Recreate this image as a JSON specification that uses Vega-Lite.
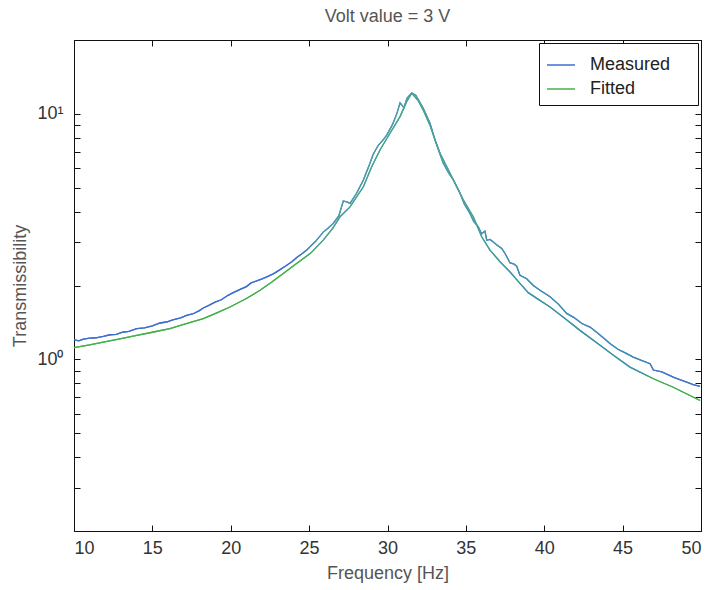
{
  "$schema": "https://vega.github.io/schema/vega-lite/v6.json",
  "autosize": {"type": "none"},
  "padding": {"left": 74, "top": 40, "right": 12, "bottom": 59},
  "width": 627,
  "height": 491,
  "background": "white",
  "title": {"text": "Volt value = 3 V", "baseline": "alphabetic", "offset": 0, "font": "Liberation Sans", "fontSize": 18, "fontWeight": "normal", "color": "#555"},
  "config": {
    "view": {"stroke": "#111", "strokeWidth": 1},
    "axis": {"grid": false, "domainColor": "#111", "tickColor": "#111", "labelColor": "#333", "titleColor": "#555", "labelFont": "Liberation Sans", "titleFont": "Liberation Sans", "labelFontSize": 18, "titleFontSize": 18, "titleFontWeight": "normal", "tickSize": -6, "labelPadding": 14},
    "legend": {"labelFont": "Liberation Sans", "labelFontSize": 18, "labelColor": "#222"}
  },
  "datasets": {
    "curves": [
      {"series": "Measured", "freq": 10.0, "trans": 1.203},
      {"series": "Measured", "freq": 10.3, "trans": 1.19},
      {"series": "Measured", "freq": 10.6, "trans": 1.21},
      {"series": "Measured", "freq": 11.0, "trans": 1.22},
      {"series": "Measured", "freq": 11.4, "trans": 1.225},
      {"series": "Measured", "freq": 11.87, "trans": 1.241},
      {"series": "Measured", "freq": 12.3, "trans": 1.26},
      {"series": "Measured", "freq": 12.7, "trans": 1.265},
      {"series": "Measured", "freq": 13.1, "trans": 1.29},
      {"series": "Measured", "freq": 13.5, "trans": 1.30},
      {"series": "Measured", "freq": 14.0, "trans": 1.335},
      {"series": "Measured", "freq": 14.5, "trans": 1.345},
      {"series": "Measured", "freq": 15.0, "trans": 1.37},
      {"series": "Measured", "freq": 15.49, "trans": 1.407},
      {"series": "Measured", "freq": 15.9, "trans": 1.42},
      {"series": "Measured", "freq": 16.3, "trans": 1.45},
      {"series": "Measured", "freq": 16.8, "trans": 1.475},
      {"series": "Measured", "freq": 17.19, "trans": 1.512},
      {"series": "Measured", "freq": 17.6, "trans": 1.535},
      {"series": "Measured", "freq": 18.0, "trans": 1.58},
      {"series": "Measured", "freq": 18.25, "trans": 1.62},
      {"series": "Measured", "freq": 18.6, "trans": 1.66},
      {"series": "Measured", "freq": 19.0, "trans": 1.71},
      {"series": "Measured", "freq": 19.4, "trans": 1.75},
      {"series": "Measured", "freq": 19.8, "trans": 1.82},
      {"series": "Measured", "freq": 20.16, "trans": 1.87},
      {"series": "Measured", "freq": 20.6, "trans": 1.93},
      {"series": "Measured", "freq": 21.0, "trans": 1.98},
      {"series": "Measured", "freq": 21.3, "trans": 2.05},
      {"series": "Measured", "freq": 21.66, "trans": 2.09},
      {"series": "Measured", "freq": 22.0, "trans": 2.13},
      {"series": "Measured", "freq": 22.3, "trans": 2.17},
      {"series": "Measured", "freq": 22.71, "trans": 2.23},
      {"series": "Measured", "freq": 23.1, "trans": 2.31},
      {"series": "Measured", "freq": 23.5, "trans": 2.40},
      {"series": "Measured", "freq": 23.9, "trans": 2.50},
      {"series": "Measured", "freq": 24.21, "trans": 2.60},
      {"series": "Measured", "freq": 24.5, "trans": 2.68},
      {"series": "Measured", "freq": 24.85, "trans": 2.79},
      {"series": "Measured", "freq": 25.06, "trans": 2.88},
      {"series": "Measured", "freq": 25.4, "trans": 3.02},
      {"series": "Measured", "freq": 25.9, "trans": 3.30},
      {"series": "Measured", "freq": 26.2, "trans": 3.42},
      {"series": "Measured", "freq": 26.54, "trans": 3.58},
      {"series": "Measured", "freq": 26.9, "trans": 3.85},
      {"series": "Measured", "freq": 27.18, "trans": 4.42},
      {"series": "Measured", "freq": 27.4, "trans": 4.38},
      {"series": "Measured", "freq": 27.61, "trans": 4.32},
      {"series": "Measured", "freq": 28.03, "trans": 4.75},
      {"series": "Measured", "freq": 28.46, "trans": 5.38},
      {"series": "Measured", "freq": 28.8, "trans": 6.1},
      {"series": "Measured", "freq": 29.09, "trans": 6.85},
      {"series": "Measured", "freq": 29.41, "trans": 7.45},
      {"series": "Measured", "freq": 29.7, "trans": 7.8},
      {"series": "Measured", "freq": 29.95, "trans": 8.2},
      {"series": "Measured", "freq": 30.3, "trans": 9.0},
      {"series": "Measured", "freq": 30.59, "trans": 10.0},
      {"series": "Measured", "freq": 30.8, "trans": 11.1},
      {"series": "Measured", "freq": 31.05, "trans": 10.6},
      {"series": "Measured", "freq": 31.25, "trans": 11.6},
      {"series": "Measured", "freq": 31.54, "trans": 12.15},
      {"series": "Measured", "freq": 31.8, "trans": 11.9},
      {"series": "Measured", "freq": 31.97, "trans": 11.4},
      {"series": "Measured", "freq": 32.28, "trans": 10.55},
      {"series": "Measured", "freq": 32.71, "trans": 9.16},
      {"series": "Measured", "freq": 33.03, "trans": 7.83},
      {"series": "Measured", "freq": 33.3, "trans": 7.0},
      {"series": "Measured", "freq": 33.56, "trans": 6.29},
      {"series": "Measured", "freq": 33.9, "trans": 5.75},
      {"series": "Measured", "freq": 34.2, "trans": 5.38},
      {"series": "Measured", "freq": 34.63, "trans": 4.75},
      {"series": "Measured", "freq": 34.9, "trans": 4.30},
      {"series": "Measured", "freq": 35.26, "trans": 3.93},
      {"series": "Measured", "freq": 35.5, "trans": 3.65},
      {"series": "Measured", "freq": 35.79, "trans": 3.47},
      {"series": "Measured", "freq": 36.0, "trans": 3.25},
      {"series": "Measured", "freq": 36.22, "trans": 3.33},
      {"series": "Measured", "freq": 36.33, "trans": 3.06},
      {"series": "Measured", "freq": 36.54, "trans": 3.08},
      {"series": "Measured", "freq": 36.75, "trans": 3.01},
      {"series": "Measured", "freq": 37.0, "trans": 2.92},
      {"series": "Measured", "freq": 37.29, "trans": 2.83},
      {"series": "Measured", "freq": 37.5, "trans": 2.70},
      {"series": "Measured", "freq": 37.82, "trans": 2.47},
      {"series": "Measured", "freq": 38.05, "trans": 2.45},
      {"series": "Measured", "freq": 38.24, "trans": 2.40},
      {"series": "Measured", "freq": 38.45, "trans": 2.20},
      {"series": "Measured", "freq": 38.88, "trans": 2.13},
      {"series": "Measured", "freq": 39.3, "trans": 2.00},
      {"series": "Measured", "freq": 39.8, "trans": 1.90},
      {"series": "Measured", "freq": 40.37, "trans": 1.80},
      {"series": "Measured", "freq": 40.9, "trans": 1.68},
      {"series": "Measured", "freq": 41.43, "trans": 1.54},
      {"series": "Measured", "freq": 41.9, "trans": 1.48},
      {"series": "Measured", "freq": 42.4, "trans": 1.40},
      {"series": "Measured", "freq": 42.92, "trans": 1.354},
      {"series": "Measured", "freq": 43.4, "trans": 1.28},
      {"series": "Measured", "freq": 43.8, "trans": 1.22},
      {"series": "Measured", "freq": 44.19, "trans": 1.16},
      {"series": "Measured", "freq": 44.7, "trans": 1.10},
      {"series": "Measured", "freq": 45.2, "trans": 1.06},
      {"series": "Measured", "freq": 45.68, "trans": 1.022},
      {"series": "Measured", "freq": 46.2, "trans": 0.99},
      {"series": "Measured", "freq": 46.75, "trans": 0.96},
      {"series": "Measured", "freq": 46.96, "trans": 0.905},
      {"series": "Measured", "freq": 47.5, "trans": 0.89},
      {"series": "Measured", "freq": 48.23, "trans": 0.847},
      {"series": "Measured", "freq": 48.6, "trans": 0.83},
      {"series": "Measured", "freq": 49.09, "trans": 0.808},
      {"series": "Measured", "freq": 49.5, "trans": 0.79},
      {"series": "Measured", "freq": 49.94, "trans": 0.776},
      {"series": "Fitted", "freq": 10.0, "trans": 1.116},
      {"series": "Fitted", "freq": 11.0, "trans": 1.145},
      {"series": "Fitted", "freq": 11.87, "trans": 1.177},
      {"series": "Fitted", "freq": 13.0, "trans": 1.215},
      {"series": "Fitted", "freq": 14.0, "trans": 1.253},
      {"series": "Fitted", "freq": 15.0, "trans": 1.29},
      {"series": "Fitted", "freq": 16.12, "trans": 1.335},
      {"series": "Fitted", "freq": 17.0, "trans": 1.39},
      {"series": "Fitted", "freq": 18.25, "trans": 1.466},
      {"series": "Fitted", "freq": 19.0, "trans": 1.535},
      {"series": "Fitted", "freq": 19.95, "trans": 1.635},
      {"series": "Fitted", "freq": 21.0, "trans": 1.77},
      {"series": "Fitted", "freq": 21.87, "trans": 1.912},
      {"series": "Fitted", "freq": 22.6, "trans": 2.06},
      {"series": "Fitted", "freq": 23.35, "trans": 2.238},
      {"series": "Fitted", "freq": 24.2, "trans": 2.46},
      {"series": "Fitted", "freq": 25.1, "trans": 2.71},
      {"series": "Fitted", "freq": 25.9, "trans": 3.06},
      {"series": "Fitted", "freq": 26.5, "trans": 3.42},
      {"series": "Fitted", "freq": 26.97, "trans": 3.81},
      {"series": "Fitted", "freq": 27.61, "trans": 4.18},
      {"series": "Fitted", "freq": 28.46, "trans": 5.05},
      {"series": "Fitted", "freq": 28.99, "trans": 6.09},
      {"series": "Fitted", "freq": 29.52, "trans": 7.13},
      {"series": "Fitted", "freq": 30.16, "trans": 8.34},
      {"series": "Fitted", "freq": 30.8, "trans": 9.75},
      {"series": "Fitted", "freq": 31.22, "trans": 11.22},
      {"series": "Fitted", "freq": 31.54, "trans": 12.15},
      {"series": "Fitted", "freq": 31.97, "trans": 11.3},
      {"series": "Fitted", "freq": 32.3, "trans": 10.3},
      {"series": "Fitted", "freq": 32.71, "trans": 9.0},
      {"series": "Fitted", "freq": 33.0, "trans": 7.95},
      {"series": "Fitted", "freq": 33.35, "trans": 6.91},
      {"series": "Fitted", "freq": 33.99, "trans": 5.73},
      {"series": "Fitted", "freq": 34.84, "trans": 4.46},
      {"series": "Fitted", "freq": 35.47, "trans": 3.81},
      {"series": "Fitted", "freq": 36.01, "trans": 3.16},
      {"series": "Fitted", "freq": 36.54, "trans": 2.786},
      {"series": "Fitted", "freq": 37.18, "trans": 2.50},
      {"series": "Fitted", "freq": 37.82, "trans": 2.27},
      {"series": "Fitted", "freq": 38.45, "trans": 2.04},
      {"series": "Fitted", "freq": 38.98, "trans": 1.87},
      {"series": "Fitted", "freq": 39.6, "trans": 1.76},
      {"series": "Fitted", "freq": 40.37, "trans": 1.635},
      {"series": "Fitted", "freq": 41.3, "trans": 1.47},
      {"series": "Fitted", "freq": 42.28, "trans": 1.313},
      {"series": "Fitted", "freq": 43.56, "trans": 1.141},
      {"series": "Fitted", "freq": 44.5, "trans": 1.03},
      {"series": "Fitted", "freq": 45.47, "trans": 0.93},
      {"series": "Fitted", "freq": 46.96, "trans": 0.834},
      {"series": "Fitted", "freq": 48.23, "trans": 0.77},
      {"series": "Fitted", "freq": 49.94, "trans": 0.68}
    ]
  },
  "layer": [
    {
      "data": {"name": "curves"},
      "mark": {"type": "line", "strokeWidth": 1.3},
      "encoding": {
        "x": {"field": "freq", "type": "quantitative", "scale": {"domain": [10, 50], "nice": false, "zero": false},
              "axis": {"orient": "bottom", "values": [10, 15, 20, 25, 30, 35, 40, 45, 50], "title": "Frequency [Hz]", "titleX": 313.5, "titleY": 42, "titleBaseline": "middle", "titleAnchor": null, "titleAlign": "center"}},
        "y": {"field": "trans", "type": "quantitative", "scale": {"type": "log", "domain": [0.2, 20], "nice": false},
              "axis": {"orient": "left", "labelPadding": 17, "values": [0.2, 0.3, 0.4, 0.5, 0.6, 0.7, 0.8, 0.9, 1, 2, 3, 4, 5, 6, 7, 8, 9, 10, 20], "labelExpr": "datum.value === 1 ? '10⁰' : (datum.value === 10 ? '10¹' : '')", "title": "Transmissibility", "titleX": -54, "titleY": 245.5, "titleBaseline": "middle", "titleAngle": -90, "titleAlign": "center"}},
        "color": {"field": "series", "type": "nominal", "scale": {"domain": ["Measured", "Fitted"], "range": ["#3e6fd0", "#45b04c"]},
                  "legend": {"title": null, "orient": "top-right", "offset": 3, "strokeColor": "#111", "fillColor": "white", "padding": 7, "symbolType": "stroke", "symbolSize": 784, "symbolStrokeWidth": 1.5, "labelOffset": 14, "rowPadding": -4, "cornerRadius": 0, "labelExpr": "datum.label + '\u00a0\u00a0\u00a0\u00a0\u200b'"}}
      }
    },
    {
      "data": {"name": "curves"},
      "transform": [{"filter": "datum.series === 'Fitted'"}],
      "mark": {"type": "line", "strokeWidth": 1.3, "stroke": {"gradient": "linear", "x1": 0, "y1": 0, "x2": 1, "y2": 0, "stops": [
        {"offset": 0, "color": "#45b04c"}, {"offset": 0.36, "color": "#45b04c"}, {"offset": 0.39, "color": "#4a9ea4"},
        {"offset": 0.62, "color": "#4ca0a0"}, {"offset": 0.72, "color": "#3b93b4"}, {"offset": 0.91, "color": "#3a8dbf"},
        {"offset": 0.925, "color": "#48ae55"}, {"offset": 1, "color": "#48ae55"}]}},
      "encoding": {
        "x": {"field": "freq", "type": "quantitative", "axis": null},
        "y": {"field": "trans", "type": "quantitative", "axis": null}
      }
    },
    {
      "data": {"name": "curves"},
      "transform": [{"filter": "datum.series === 'Measured'"}],
      "mark": {"type": "line", "strokeWidth": 1.3, "stroke": {"gradient": "linear", "x1": 0, "y1": 0, "x2": 1, "y2": 0, "stops": [
        {"offset": 0, "color": "#3e6fd0"}, {"offset": 0.36, "color": "#3e6fd0"}, {"offset": 0.39, "color": "#4a9ea4"},
        {"offset": 0.62, "color": "#4ca0a0"}, {"offset": 0.72, "color": "#3b93b4"}, {"offset": 0.91, "color": "#3a8dbf"},
        {"offset": 0.925, "color": "#4a72c8"}, {"offset": 1, "color": "#4a72c8"}]}},
      "encoding": {
        "x": {"field": "freq", "type": "quantitative", "axis": null},
        "y": {"field": "trans", "type": "quantitative", "axis": null}
      }
    },
    {
      "data": {"name": "curves"},
      "mark": {"type": "point", "opacity": 0},
      "encoding": {
        "x": {"field": "freq", "type": "quantitative", "axis": {"orient": "top", "values": [10, 15, 20, 25, 30, 35, 40, 45, 50], "labels": false, "title": null}},
        "y": {"field": "trans", "type": "quantitative", "axis": {"orient": "right", "values": [0.2, 0.3, 0.4, 0.5, 0.6, 0.7, 0.8, 0.9, 1, 2, 3, 4, 5, 6, 7, 8, 9, 10, 20], "labels": false, "title": null}}
      }
    }
  ],
  "resolve": {"axis": {"x": "independent", "y": "independent"}}
}
